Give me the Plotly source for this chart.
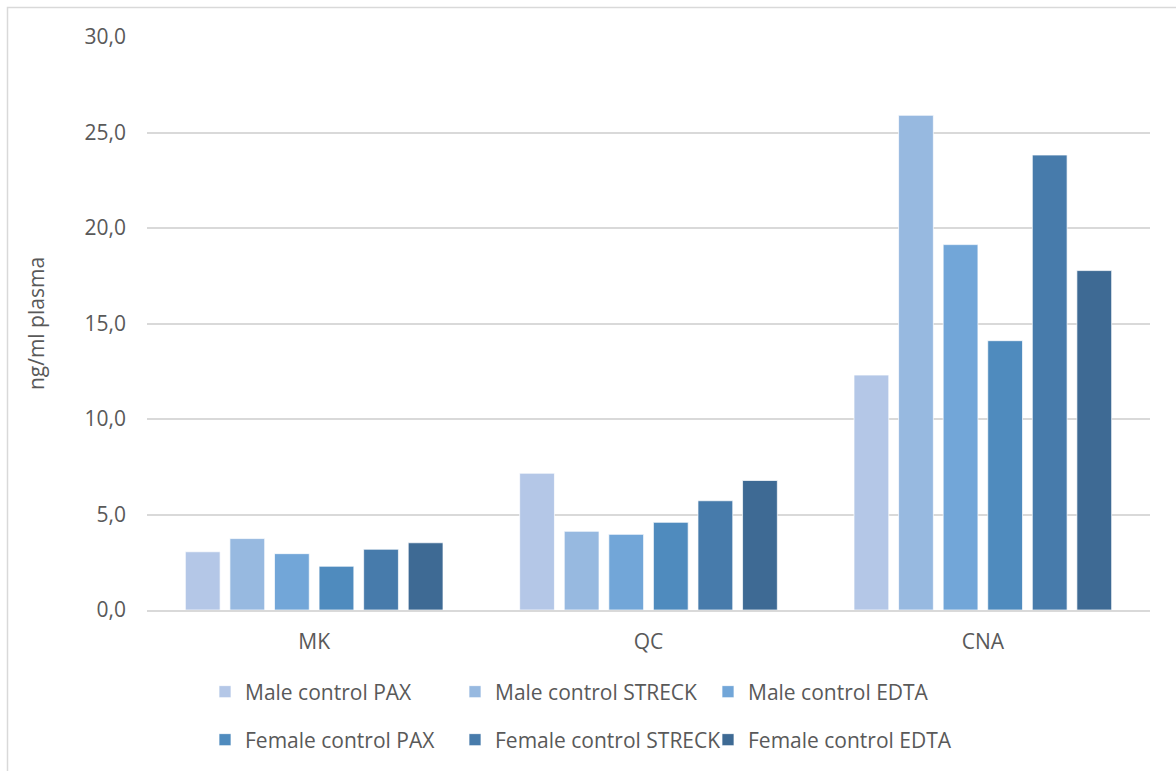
import plotly.graph_objects as go

# Sample groups and cfDNA concentrations (ng/ml plasma)
categories = ["MK", "QC", "CNA"]
series_names = [
    "Male control PAX", "Male control STRECK", "Male control EDTA",
    "Female control PAX", "Female control STRECK", "Female control EDTA",
]
male_pax = [3.05, 7.16, 12.30]
male_streck = [3.74, 4.12, 25.90]
male_edta = [2.95, 3.96, 19.13]
female_pax = [2.29, 4.59, 14.10]
female_streck = [3.18, 5.72, 23.82]
female_edta = [3.52, 6.78, 17.77]
series_values = [male_pax, male_streck, male_edta, female_pax, female_streck, female_edta]
colors = ["#B4C7E7", "#97B9E0", "#72A6D8", "#4F8BBE", "#477BAB", "#3E6A94"]

W, H = 1176, 771
L, R, T, B = 147, 26, 37, 161
PW, PH = W - L - R, H - T - B


def px_x(px):
    return (px - L) / PW


def px_y(py):
    return (H - B - py) / PH


FONT = "Open Sans"
FS = 21
GREY = "#595959"

fig = go.Figure()
legend_pos = [(245, 692), (495, 692), (748, 692), (245, 740), (495, 740), (748, 740)]
layout_legends = {}
for i, (name, vals, col) in enumerate(zip(series_names, series_values, colors)):
    key = "legend" if i == 0 else f"legend{i + 1}"
    fig.add_trace(go.Bar(
        x=categories, y=vals, name=name,
        marker=dict(color=col, line=dict(color="rgba(255,255,255,0.7)", width=1)),
        legend=key,
    ))
    tx, ty = legend_pos[i]
    layout_legends[key] = dict(
        x=px_x(tx - 40), y=px_y(ty), xanchor="left", yanchor="middle",
        bgcolor="rgba(0,0,0,0)", font=dict(family=FONT, size=FS, color=GREY),
        itemclick=False,
    )

fig.update_layout(
    width=W, height=H,
    margin=dict(l=L, r=R, t=T, b=B, autoexpand=False),
    paper_bgcolor="white", plot_bgcolor="white",
    separators=",.",
    barmode="group", bargap=0.2, bargroupgap=0.22,
    font=dict(family=FONT, size=FS, color=GREY),
    showlegend=True,
    **layout_legends,
)
fig.update_xaxes(
    showgrid=False, showline=True, linecolor="#D9D9D9", linewidth=1.5,
    ticks="", ticklabelstandoff=12,
    tickfont=dict(family=FONT, size=FS, color=GREY),
)
fig.update_yaxes(
    range=[0, 30], dtick=5, tickformat=".1f",
    showgrid=True, gridcolor="#D9D9D9", gridwidth=1.5,
    zeroline=False, showline=False, ticks="",
    ticklabelstandoff=20,
    tickfont=dict(family=FONT, size=FS, color=GREY),
    title=dict(text="ng/ml plasma", standoff=34,
               font=dict(family=FONT, size=FS, color=GREY)),
)
# thin chart-area frame
fig.add_shape(
    type="rect", xref="paper", yref="paper",
    x0=px_x(7.5), x1=px_x(1190), y0=px_y(7.5), y1=px_y(790),
    line=dict(color="#D9D9D9", width=1.5), fillcolor="rgba(0,0,0,0)", layer="below",
)

fig.write_html("out.html")
